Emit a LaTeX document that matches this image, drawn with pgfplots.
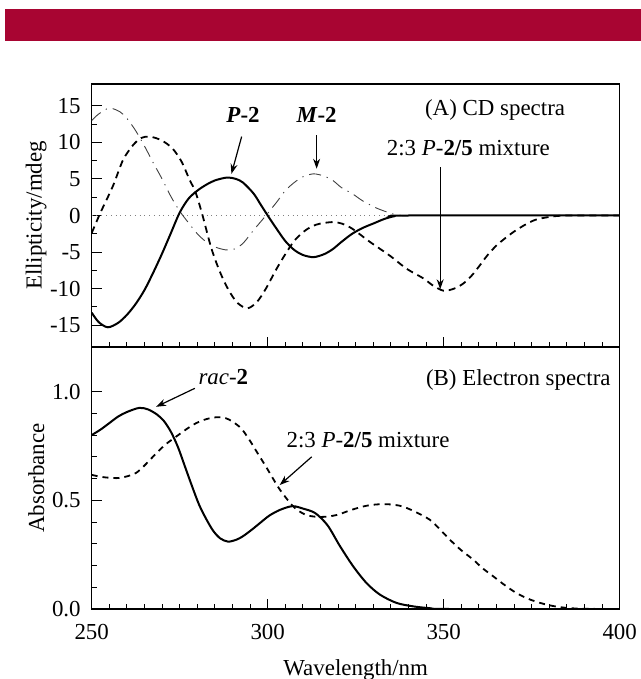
\documentclass[border=0pt]{standalone}
\usepackage{fontspec}
\setmainfont{Liberation Serif}
\usepackage{pgfplots}
\pgfplotsset{compat=1.18}
\usetikzlibrary{arrows.meta}

\definecolor{banner}{RGB}{168,5,50}

\pgfplotsset{
  spec/.style={
    scale only axis, width=264bp,
    xmin=250, xmax=400,
    xtick={250,300,350,400}, minor x tick num=9,
    tick pos=left, tick align=inside,
    major tick length=5bp, minor tick length=2.5bp,
    axis line style={line width=0.6bp},
    every tick/.style={black, line width=0.5bp},
    tick label style={font=\fontsize{11.5}{13}\selectfont},
    xticklabel style={yshift=-4bp},
    yticklabel style={xshift=-2bp},
    /pgf/number format/assume math mode=true,
    clip=true,
  },
  solid curve/.style={black, line width=1bp, smooth, no marks},
  mix curve/.style={black, line width=0.9bp, dash pattern=on 3.5bp off 2.5bp, smooth, no marks},
  m curve/.style={black!75, line width=0.45bp, dash pattern=on 6bp off 3bp on 0.6bp off 3bp, smooth, no marks},
}
\tikzset{lbl/.style={font=\fontsize{11.5}{13}\selectfont, inner sep=0pt},
         arr/.style={-{Stealth[length=5bp,width=3.5bp]}, line width=0.6bp}}

\begin{document}
\begin{tikzpicture}
\path[use as bounding box] (0,0) rectangle (320.5bp,-339.5bp);
\fill[banner] (2.5bp,-4.5bp) rectangle (320.5bp,-20.5bp);

% (A) CD spectra
\begin{axis}[spec,
  name=top, at={(45.85bp,-42bp)}, anchor=north west,
  height=131.5bp, ymin=-18, ymax=18,
  xticklabels={},
  ytick={-15,-10,...,15}, minor y tick num=1,
  ylabel={Ellipticity/mdeg},
  every axis y label/.style={at={(axis description cs:-0.105,0.5)}, rotate=90, anchor=center,
    font=\fontsize{11.5}{13}\selectfont},
]
\addplot[gray, line width=0.4bp, dotted] coordinates {(250,0) (400,0)};
\addplot[m curve] coordinates {
(250,13) (252,13.9) (255,14.7) (258,14.2) (260,13.3) (262.5,11.6) (265,9.5)
(267.5,7.2) (270,5) (272.5,2.6) (275,0.6) (277.5,-1) (280,-2.5) (282.5,-3.6)
(285,-4.3) (288,-4.7) (290.5,-4.6) (293,-3.8) (296,-2) (299.5,0) (302.5,1.8)
(305,3.4) (307.5,4.5) (310,5.3) (313,5.7) (316,5.4) (318.5,4.8) (321,3.8)
(324,3) (327,2) (331,1) (335,0.3) (338,0) (345,0) (400,0)};
\addplot[mix curve] coordinates {
(250,-2.4) (252.5,0.4) (256,4) (258.9,7.6) (261.7,9.6) (264,10.6) (266.5,10.8)
(269.8,10.3) (272.9,9.2) (275.5,7.4) (277.8,4.9) (279.5,3.2) (281.5,0)
(284,-4.5) (286.5,-7.8) (289,-10.3) (291.5,-12) (294.3,-12.7) (297,-11.8)
(299.5,-10) (302.4,-7.4) (305,-5.3) (307.5,-3.5) (310,-2.3) (312.5,-1.5)
(315,-1.1) (318.5,-0.9) (321,-1.1) (324,-1.8) (329,-3.6) (334.7,-5.5)
(339.5,-7.3) (344.2,-8.6) (347,-9.6) (350,-10.3) (353,-10) (355.6,-9.3)
(358,-8.2) (360.3,-6.8) (362.5,-5.4) (365,-4.1) (367.5,-3.1) (370,-2.2)
(373,-1.3) (376,-0.6) (380,-0.2) (385,0) (400,0)};
\addplot[solid curve] coordinates {
(250,-13.3) (252,-14.6) (254.6,-15.3) (257.5,-14.7) (260,-13.6) (262.5,-12.1)
(265,-10.2) (267.5,-7.8) (270,-5.2) (272.5,-2.4) (275,0.4) (277.5,2.3)
(280,3.4) (282.5,4.2) (285,4.8) (288.5,5.2) (291,5) (293,4.5) (296,3)
(298,1.5) (300,0) (302.5,-1.8) (305,-3.5) (307.5,-4.7) (310,-5.4) (313,-5.7)
(316,-5.3) (318.5,-4.6) (321,-3.6) (324,-2.5) (327,-1.7) (330,-1.1)
(333,-0.5) (336,-0.1) (340,0) (400,0)};
\node[lbl] at (axis cs:293,13.8) {\textbf{\textit{P}-2}};
\draw[arr] (axis cs:292.6,10.8) -- (axis cs:289.7,5.7);
\node[lbl] at (axis cs:313.9,13.8) {\textbf{\textit{M}-2}};
\draw[arr] (axis cs:313.9,11) -- (axis cs:313.9,6.4);
\node[lbl] at (axis cs:364.6,14.5) {(A) CD spectra};
\node[lbl] at (axis cs:357,9.2) {2:3 \textit{P}-\textbf{2/5} mixture};
\draw[arr] (axis cs:349,6.6) -- (axis cs:349,-10.1);
\end{axis}

% (B) Electron spectra
\begin{axis}[spec,
  name=bot, at={(45.85bp,-173.5bp)}, anchor=north west,
  height=131bp, ymin=0, ymax=1.205,
  ytick={0,0.5,1}, minor y tick num=4,
  yticklabel style={/pgf/number format/.cd, fixed, fixed zerofill, precision=1},
  xlabel={Wavelength/nm},
  every axis x label/.style={at={(axis description cs:0.5,-0.233)}, anchor=center,
    font=\fontsize{11.5}{13}\selectfont},
  ylabel={Absorbance},
  every axis y label/.style={at={(axis description cs:-0.105,0.5)}, rotate=90, anchor=center,
    font=\fontsize{11.5}{13}\selectfont},
]
\addplot[mix curve, dash pattern=on 3bp off 2.5bp] coordinates {
(250,0.617) (253,0.607) (257,0.602) (260,0.61) (262.7,0.627) (265,0.66)
(268.4,0.717) (271,0.757) (274,0.793) (277,0.828) (279.7,0.855) (282.5,0.873)
(285.4,0.882) (288,0.878) (290,0.862) (292.5,0.83) (294.8,0.778) (297,0.72)
(299.5,0.655) (301.5,0.6) (303.5,0.548) (306,0.495) (308,0.46) (311,0.432)
(314,0.424) (317,0.425) (320,0.434) (322.4,0.448) (325,0.462) (328.1,0.475)
(331,0.481) (333.8,0.482) (336,0.479) (338.5,0.471) (342.3,0.444) (346.1,0.41)
(349,0.365) (351.8,0.318) (355,0.27) (358.4,0.227) (361,0.188) (364.1,0.15)
(367.5,0.108) (370.7,0.073) (374,0.047) (377.4,0.028) (381,0.014) (385,0.005)
(390,0.001) (400,0)};
\addplot[solid curve] coordinates {
(250,0.80) (252.5,0.825) (255,0.855) (257.5,0.885) (260,0.906) (263.5,0.925)
(266,0.918) (268.5,0.895) (270.5,0.865) (272.5,0.815) (274.5,0.745)
(276.5,0.655) (278.5,0.565) (280.5,0.48) (282.5,0.415) (284.5,0.36)
(286.5,0.325) (288.7,0.31) (291,0.318) (293,0.335) (295.5,0.365) (298,0.398)
(300.5,0.43) (303.5,0.456) (307,0.473) (310,0.462) (313.5,0.441) (317,0.385)
(320.5,0.29) (324.3,0.196) (328.1,0.119) (331.9,0.066) (336.6,0.028)
(341.4,0.012) (346,0.004) (352,0) (400,0)};
\node[lbl] at (axis cs:371.2,1.054) {(B) Electron spectra};
\node[lbl] at (axis cs:287.4,1.069) {\textit{rac}-\textbf{2}};
\draw[arr] (axis cs:279.3,1.015) -- (axis cs:268.3,0.93);
\node[lbl] at (axis cs:328.5,0.778) {2:3 \textit{P}-\textbf{2/5} mixture};
\draw[arr] (axis cs:312.5,0.70) -- (axis cs:303.4,0.57);
\end{axis}
\end{tikzpicture}
\end{document}
